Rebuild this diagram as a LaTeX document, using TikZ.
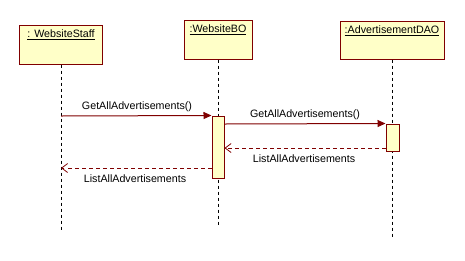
\documentclass[tikz,border=0pt]{standalone}
\usepackage{fontspec}
\setmainfont{Liberation Sans}
\usetikzlibrary{arrows.meta}
\definecolor{umlborder}{RGB}{128,0,0}
\definecolor{umlfill}{RGB}{255,255,200}
\begin{document}
\begin{tikzpicture}[x=1bp,y=-1bp,
  font=\fontsize{10.7bp}{12bp}\selectfont,
  objbox/.style={draw=umlborder,fill=umlfill,line width=1bp,minimum height=39bp,inner sep=0pt},
  objname/.style={anchor=north,inner sep=0pt},
  lifeline/.style={black,line width=0.8bp,dash pattern=on 3bp off 3bp},
  actbox/.style={draw=umlborder,fill=umlfill,line width=1bp,inner sep=0pt},
  callmsg/.style={umlborder,line width=1bp,-{Triangle[length=8bp,width=7bp]}},
  replymsg/.style={umlborder,line width=0.8bp,dash pattern=on 4bp off 3bp,-{Straight Barb[length=6bp,width=9bp]}},
  msglabel/.style={inner sep=0pt}]
\useasboundingbox (0,0) rectangle (465,260);

% participants
\node[objbox,minimum width=82bp] (staff) at (61,44.5) {};
\node[objbox,minimum width=68bp] (bo) at (218,39.5) {};
\node[objbox,minimum width=104bp,minimum height=38bp] (dao) at (392,40) {};
\node[objname] (stafftxt) at ([yshift=-5bp]staff.north) {\underline{: WebsiteStaff}};
\node[objname] (botxt) at ([yshift=-5bp]bo.north) {\underline{:WebsiteBO}};
\node[objname] (daotxt) at ([yshift=-5bp]dao.north) {\underline{:AdvertisementDAO}};

% lifelines
\coordinate (staffend) at (61,230);
\coordinate (boend) at (218,225);
\coordinate (daoend) at (392.5,237);
\draw[lifeline] (staff.south) -- (staffend);
\draw[lifeline] (bo.south) -- (boend);
\draw[lifeline] (dao.south -| daoend) -- (daoend);

% activations
\node[actbox,minimum width=12bp,minimum height=62bp] (act2) at (218,147) {};
\node[actbox,minimum width=13bp,minimum height=27bp] (act3) at (392.5,137.5) {};

% message levels
\coordinate (m1) at (61,116);
\coordinate (m2) at (0,124);
\coordinate (m3) at (0,148);
\coordinate (m4) at (61,168);

% messages
\draw[callmsg] (m1) -- (act2.north west);
\draw[callmsg] (m2 -| act2.east) -- (act3.north west);
\draw[replymsg] (m3 -| act3.west) -- (m3 -| act2.east);
\draw[replymsg] (m4 -| act2.west) -- (m4);

% message labels
\node[msglabel] (l1) at (137,106.5) {GetAllAdvertisements()};
\node[msglabel] (l2) at (305,115) {GetAllAdvertisements()};
\node[msglabel] (l3) at (304,158.5) {ListAllAdvertisements};
\node[msglabel] (l4) at (135,178.5) {ListAllAdvertisements};
\end{tikzpicture}
\end{document}
